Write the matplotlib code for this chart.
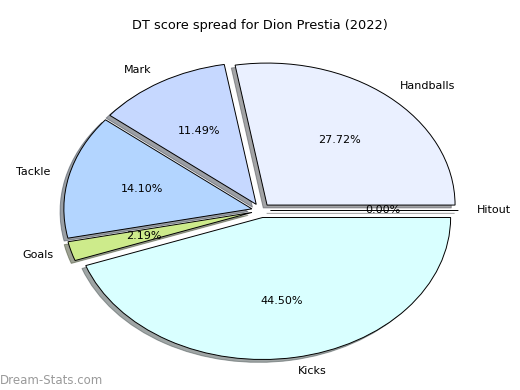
import matplotlib
matplotlib.use("Agg")
import matplotlib.pyplot as plt

categories = ["Handballs", "Mark", "Tackle", "Goals", "Kicks", "Hitout"]
values = [27.72, 11.49, 14.10, 2.19, 44.50, 0.00]
colors = ["#eaf0ff", "#c6d8ff", "#b3d5ff", "#cdeb8b", "#d9ffff", "#e0e0e0"]
explode = [0.05] * len(values)
title = "DT score spread for Dion Prestia (2022)"

fig = plt.figure(figsize=(5.2, 3.9), dpi=100)
ax = fig.add_axes([0, 0, 1, 1])
ax.pie(values, labels=categories, colors=colors, explode=explode,
       autopct="%.2f%%", startangle=0,
       shadow={"ox": -0.0145, "oy": -0.0145},
       wedgeprops=dict(edgecolor="black", linewidth=0.7),
       textprops=dict(fontsize=8))
ax.set_aspect("auto")
# pixel geometry: centre (261, 210.5), 188 px/unit horizontally, 142 px/unit vertically
xmin = -261 / 188
ax.set_xlim(xmin, xmin + 520 / 188)
ymax = 210.5 / 142
ax.set_ylim(ymax - 390 / 142, ymax)
ax.axis("off")

fig.text(0.5, 1 - 25 / 390, title, ha="center", va="center", fontsize=9.3)
fig.text(0.0, 1 - 380 / 390, "Dream-Stats.com", ha="left", va="center",
         fontsize=8.5, color="#9a9a9a")

fig.savefig("out.png", dpi=100)
